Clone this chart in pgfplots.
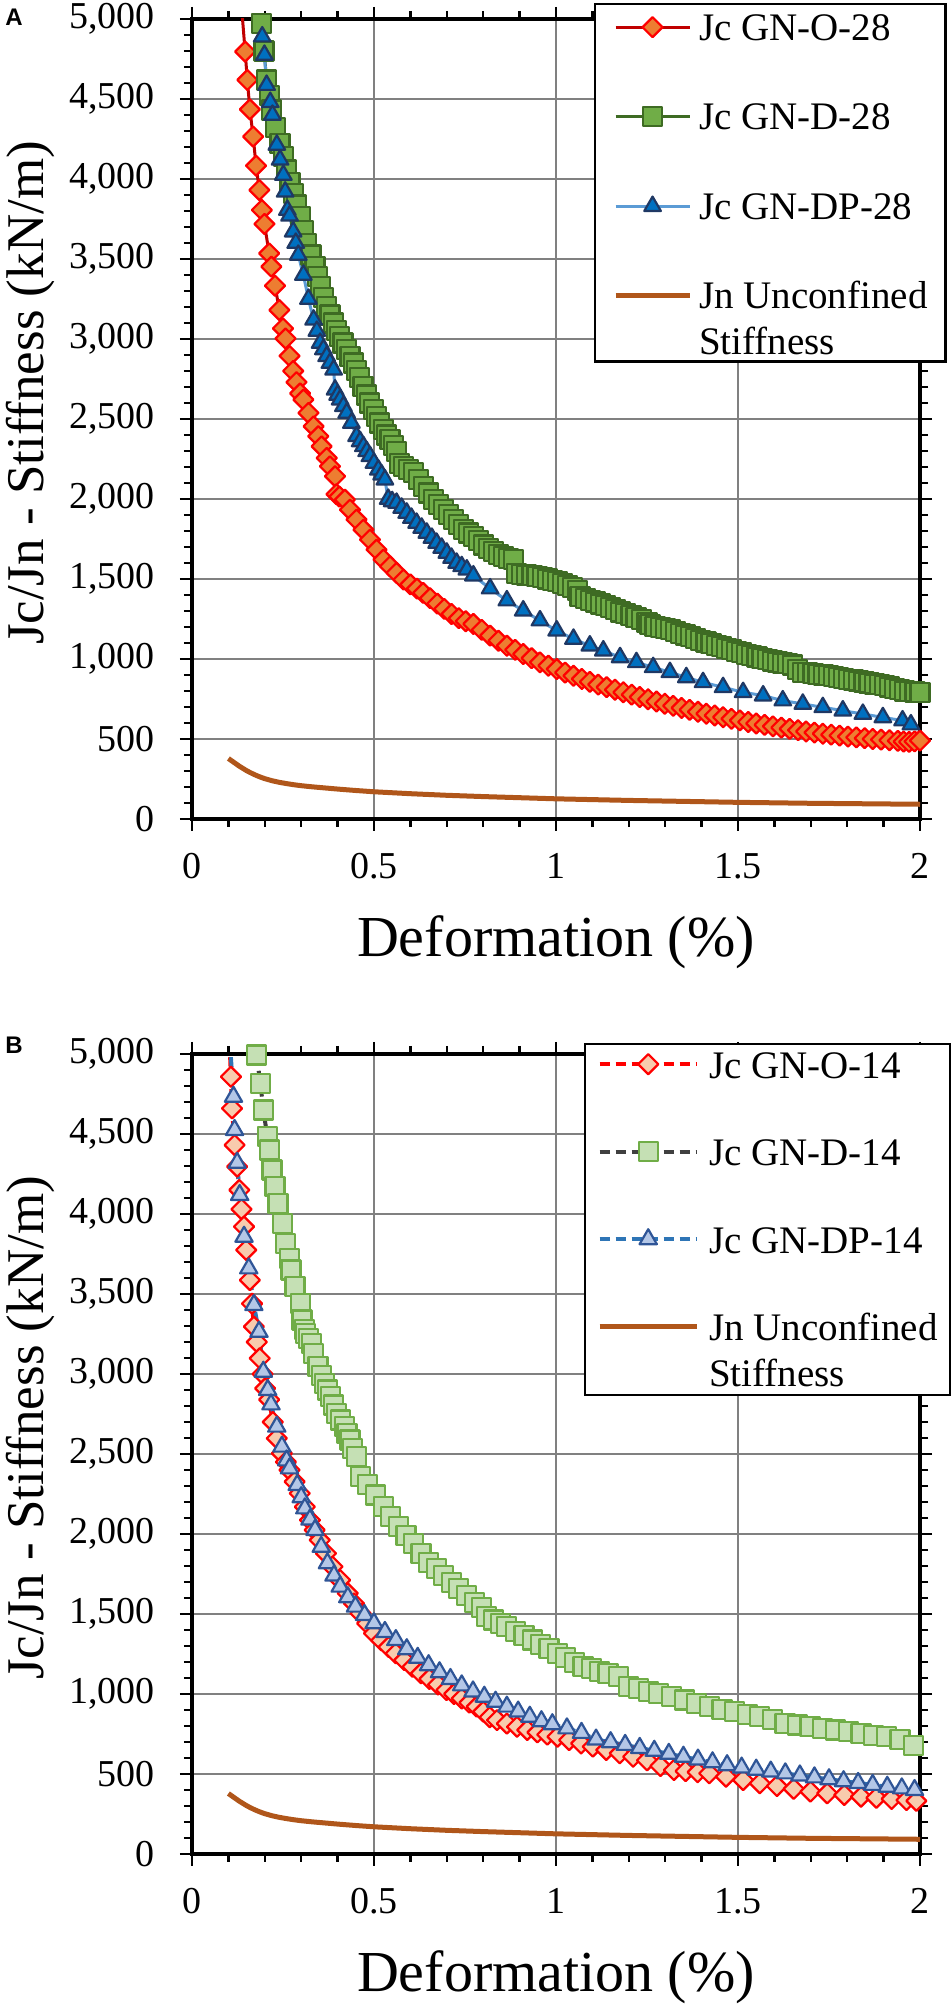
\documentclass[border=0pt]{standalone}
\usepackage{fontspec}
\setmainfont{Liberation Serif}
\newfontfamily\panelfont{Liberation Sans}
\usepackage{pgfplots}
\pgfplotsset{compat=1.18}

\definecolor{oline}{HTML}{C00000}
\definecolor{ofill}{HTML}{ED7D31}
\definecolor{oedge}{HTML}{FF0000}
\definecolor{dline}{HTML}{3E6B23}
\definecolor{dfill}{HTML}{70AD47}
\definecolor{dedge}{HTML}{3E6B23}
\definecolor{pline}{HTML}{5B9BD5}
\definecolor{pfill}{HTML}{0070C0}
\definecolor{pedge}{HTML}{1F3864}
\definecolor{jn}{HTML}{B0561A}
\definecolor{ofillB}{HTML}{F8CBAD}
\definecolor{olineB}{HTML}{FF0000}
\definecolor{dlineB}{HTML}{404040}
\definecolor{dfillB}{HTML}{C5E0B4}
\definecolor{dedgeB}{HTML}{70AD47}
\definecolor{plineB}{HTML}{2E75B6}
\definecolor{pfillB}{HTML}{B4C7E7}
\definecolor{pedgeB}{HTML}{2F5597}
\definecolor{gridc}{HTML}{808080}

\pgfplotsset{
  panel/.style={
    scale only axis, width=364pt, height=400pt,
    xmin=0, xmax=2, ymin=0, ymax=5000,
    xtick={0,0.5,1,1.5,2}, ytick={0,500,...,5000},
    minor x tick num=4, minor y tick num=4,
    tick align=outside, major tick length=6pt, minor tick length=4pt,
    tick style={black, line width=1.2pt},
    axis line style={black, line width=1.8pt},
    grid=major, major grid style={gridc, line width=1.1pt},
    /pgf/number format/assume math mode=true,
    /pgf/number format/1000 sep={,},
    tick label style={font=\fontsize{19pt}{21pt}\selectfont},
    yticklabel style={anchor=east, inner sep=0pt, xshift=-12.5pt},
    xticklabel style={anchor=north, inner sep=0pt, yshift=-11pt},
    xlabel={Deformation (\%)},
    ylabel={Jc/Jn - Stiffness (kN/m)},
    xlabel style={font=\fontsize{29pt}{33pt}\selectfont, at={(axis description cs:0.5,-0.12)}, anchor=north, inner sep=0pt},
    ylabel style={font=\fontsize{26.5pt}{30pt}\selectfont, at={(axis description cs:-0.2225,0.5325)}, anchor=center, inner sep=0pt},
    legend style={draw=black, line width=1.2pt, fill=white,
      font=\fontsize{19.5pt}{23pt}\selectfont,
      cells={anchor=base west},
      nodes={inner sep=0pt, text height=14pt, text depth=3pt}},
  }
}

\begin{document}
\begin{tikzpicture}
\path[use as bounding box] (0,0) rectangle (475pt,1002.5pt);

% ---------------- Panel A ----------------
\begin{axis}[panel, at={(96pt,593pt)}, anchor=south west,
  legend style={at={(0.552,1.02)}, anchor=north west, inner xsep=9pt, inner ysep=4pt, row sep=27.75pt, column sep=3.5pt},
  legend image code/.code={\draw[mark repeat=2,mark phase=2] plot coordinates {(0pt,6.5pt) (18.5pt,6.5pt) (37pt,6.5pt)};}]

\addplot[color=oline, line width=1.5pt, line join=round, mark=square*, mark size=3.55pt,
  mark options={rotate=45, fill=ofill, draw=oedge, line width=1.1pt, solid}] coordinates {
(0.136,5080)(0.146,4796)(0.152,4619)(0.159,4435)(0.168,4265)(0.176,4083)(0.185,3931)(0.192,3806)(0.199,3719)(0.212,3535)(0.218,3452)(0.228,3333)(0.240,3181)(0.250,3066)(0.257,3003)(0.268,2894)(0.278,2800)(0.287,2730)(0.297,2660)(0.306,2621)(0.320,2538)(0.334,2454)(0.347,2392)(0.356,2329)(0.370,2256)(0.379,2204)(0.393,2142)(0.397,2030)(0.405,2015)(0.420,1996)(0.434,1933)(0.452,1871)(0.471,1808)(0.489,1746)(0.507,1683)(0.526,1621)(0.544,1579)(0.562,1538)(0.581,1496)(0.600,1466)(0.618,1440)(0.635,1413)(0.654,1380)(0.674,1346)(0.693,1313)(0.713,1281)(0.733,1255)(0.752,1236)(0.773,1219)(0.796,1182)(0.819,1146)(0.842,1114)(0.865,1083)(0.888,1057)(0.910,1031)(0.933,1005)(0.956,979)(0.979,958)(1.002,937)(1.025,915)(1.048,895)(1.071,875)(1.093,857)(1.116,840)(1.139,824)(1.162,808)(1.185,792)(1.208,777)(1.230,762)(1.253,748)(1.276,734)(1.299,720)(1.322,707)(1.345,694)(1.367,682)(1.390,670)(1.413,658)(1.436,647)(1.459,636)(1.482,626)(1.505,616)(1.528,606)(1.550,597)(1.573,588)(1.596,579)(1.619,571)(1.642,563)(1.665,555)(1.687,547)(1.710,540)(1.733,533)(1.756,527)(1.779,521)(1.802,515)(1.825,510)(1.848,505)(1.870,500)(1.893,496)(1.916,492)(1.939,488)(1.955,484)(1.970,482)(1.985,485)(2.000,490)
};
\addlegendentry{Jc GN-O-28}

\addplot[color=dline, line width=1.5pt, line join=round, mark=square*, mark size=4.75pt,
  mark options={fill=dfill, draw=dedge, line width=1.1pt, solid}] coordinates {
(0.190,4973)(0.198,4800)(0.205,4619)(0.212,4520)(0.219,4431)(0.230,4320)(0.242,4222)(0.251,4140)(0.260,4056)(0.269,3980)(0.278,3910)(0.288,3837)(0.297,3764)(0.306,3680)(0.315,3597)(0.327,3525)(0.338,3452)(0.345,3390)(0.352,3327)(0.361,3260)(0.370,3204)(0.379,3150)(0.388,3100)(0.397,3055)(0.406,3017)(0.415,2975)(0.424,2933)(0.434,2890)(0.443,2850)(0.452,2805)(0.461,2760)(0.470,2705)(0.479,2650)(0.488,2600)(0.498,2558)(0.507,2517)(0.516,2475)(0.525,2433)(0.535,2400)(0.544,2371)(0.553,2335)(0.562,2298)(0.571,2220)(0.580,2204)(0.594,2183)(0.608,2163)(0.622,2120)(0.635,2079)(0.649,2037)(0.663,1996)(0.677,1965)(0.690,1933)(0.704,1902)(0.718,1871)(0.732,1840)(0.745,1808)(0.759,1787)(0.773,1767)(0.787,1738)(0.800,1712)(0.814,1692)(0.828,1672)(0.842,1655)(0.855,1642)(0.869,1630)(0.883,1620)(0.892,1535)(0.906,1530)(0.920,1525)(0.934,1520)(0.948,1514)(0.962,1508)(0.976,1500)(0.990,1492)(1.004,1482)(1.018,1470)(1.032,1457)(1.046,1445)(1.060,1430)(1.066,1390)(1.080,1378)(1.094,1366)(1.108,1356)(1.122,1344)(1.136,1333)(1.150,1320)(1.164,1307)(1.178,1294)(1.192,1282)(1.206,1270)(1.220,1258)(1.234,1246)(1.250,1230)(1.258,1215)(1.272,1205)(1.286,1198)(1.300,1190)(1.314,1182)(1.328,1172)(1.342,1160)(1.356,1150)(1.370,1138)(1.384,1127)(1.398,1116)(1.412,1106)(1.426,1096)(1.440,1086)(1.454,1076)(1.468,1066)(1.482,1057)(1.496,1048)(1.510,1039)(1.524,1030)(1.538,1021)(1.552,1012)(1.566,1003)(1.580,995)(1.594,987)(1.608,981)(1.622,975)(1.636,970)(1.650,962)(1.664,935)(1.678,917)(1.692,913)(1.706,909)(1.720,905)(1.734,900)(1.748,896)(1.762,891)(1.776,886)(1.790,880)(1.804,874)(1.818,868)(1.832,862)(1.846,856)(1.860,850)(1.874,844)(1.888,838)(1.902,832)(1.916,825)(1.930,817)(1.944,808)(1.958,800)(1.972,797)(1.986,794)(2.000,792)
};
\addlegendentry{Jc GN-D-28}

\addplot[color=pline, line width=1.5pt, line join=round, mark=triangle*, mark size=4.8pt,
  mark options={fill=pfill, draw=pedge, line width=1.1pt, solid}] coordinates {
(0.187,5080)(0.193,4890)(0.199,4775)(0.205,4587)(0.215,4480)(0.221,4400)(0.233,4213)(0.242,4120)(0.251,4025)(0.256,3920)(0.262,3806)(0.268,3770)(0.278,3671)(0.285,3600)(0.292,3525)(0.306,3400)(0.320,3250)(0.334,3120)(0.343,3050)(0.352,2975)(0.361,2935)(0.370,2892)(0.379,2850)(0.389,2808)(0.393,2683)(0.400,2650)(0.407,2621)(0.416,2580)(0.425,2538)(0.438,2475)(0.452,2392)(0.462,2360)(0.471,2329)(0.480,2298)(0.489,2267)(0.500,2225)(0.512,2183)(0.521,2152)(0.530,2121)(0.539,2000)(0.550,1985)(0.562,1975)(0.576,1944)(0.590,1913)(0.603,1881)(0.617,1850)(0.631,1819)(0.645,1788)(0.659,1756)(0.672,1725)(0.686,1694)(0.700,1663)(0.713,1631)(0.727,1600)(0.741,1579)(0.755,1558)(0.773,1521)(0.819,1440)(0.865,1365)(0.910,1302)(0.956,1240)(1.002,1177)(1.048,1125)(1.093,1083)(1.130,1052)(1.176,1010)(1.221,979)(1.267,948)(1.313,917)(1.358,885)(1.404,854)(1.459,823)(1.514,792)(1.569,771)(1.623,740)(1.678,719)(1.733,698)(1.788,677)(1.843,656)(1.898,635)(1.952,615)(1.975,590)
};
\addlegendentry{Jc GN-DP-28}

\addplot[color=jn, line width=2.5pt, line join=round, mark=none] coordinates {
(0.100,378)(0.110,362)(0.120,346)(0.130,330)(0.140,316)(0.150,302)(0.160,290)(0.170,279)(0.180,269)(0.190,260)(0.200,252)(0.220,239)(0.240,229)(0.260,221)(0.280,214)(0.300,208)(0.330,201)(0.360,195)(0.400,187)(0.450,178)(0.500,170)(0.600,158)(0.700,148)(0.800,140)(0.900,133)(1.000,126)(1.100,121)(1.200,116)(1.300,112)(1.400,108)(1.500,104)(1.600,101)(1.700,98)(1.800,96)(1.900,94)(2.000,92)
};
\addlegendentry[text depth=22.5pt]{{\begin{tabular}[t]{@{}l@{}}Jn Unconfined\\Stiffness\end{tabular}}}
\end{axis}

% ---------------- Panel B ----------------
\begin{axis}[panel, at={(96pt,75.5pt)}, anchor=south west,
  legend style={at={(0.5385,1.01375)}, anchor=north west, inner xsep=6pt, inner ysep=3pt, row sep=26.75pt, column sep=5pt},
  legend image code/.code={\draw[mark repeat=2,mark phase=2] plot coordinates {(0pt,7pt) (24.25pt,7pt) (48.5pt,7pt)};}]

\addplot[color=olineB, line width=2pt, dash pattern=on 5pt off 3pt, line join=round, mark=square*, mark size=3.55pt,
  mark options={rotate=45, fill=ofillB, draw=olineB, line width=1.1pt, solid}] coordinates {
(0.103,5080)(0.107,4858)(0.110,4660)(0.117,4431)(0.124,4296)(0.130,4150)(0.136,4030)(0.143,3921)(0.149,3775)(0.159,3587)(0.165,3440)(0.170,3296)(0.178,3200)(0.186,3098)(0.194,3000)(0.201,2910)(0.212,2840)(0.222,2700)(0.233,2598)(0.247,2504)(0.258,2450)(0.268,2400)(0.282,2327)(0.296,2254)(0.310,2170)(0.324,2087)(0.337,2025)(0.351,1962)(0.368,1879)(0.386,1796)(0.407,1712)(0.428,1629)(0.445,1566)(0.463,1504)(0.481,1441)(0.500,1379)(0.520,1335)(0.540,1294)(0.560,1254)(0.583,1212)(0.606,1170)(0.629,1129)(0.652,1094)(0.676,1059)(0.699,1025)(0.720,1000)(0.741,972)(0.762,946)(0.782,921)(0.800,890)(0.818,855)(0.838,837)(0.865,815)(0.893,795)(0.921,775)(0.949,760)(0.976,746)(1.004,733)(1.036,712)(1.069,691)(1.101,671)(1.138,650)(1.175,629)(1.212,608)(1.250,585)(1.287,550)(1.324,525)(1.356,518)(1.389,511)(1.421,504)(1.467,483)(1.514,462)(1.560,442)(1.607,425)(1.653,407)(1.699,390)(1.745,379)(1.792,369)(1.838,358)(1.880,351)(1.922,344)(1.963,337)(1.990,332)
};
\addlegendentry{Jc GN-O-14}

\addplot[color=dlineB, line width=2pt, dash pattern=on 5pt off 3pt, line join=round, mark=square*, mark size=4.75pt,
  mark options={fill=dfillB, draw=dedgeB, line width=1.1pt, solid}] coordinates {
(0.177,4994)(0.188,4817)(0.196,4650)(0.207,4483)(0.212,4400)(0.220,4275)(0.228,4171)(0.236,4067)(0.249,3942)(0.257,3817)(0.268,3723)(0.272,3650)(0.283,3546)(0.297,3442)(0.302,3337)(0.308,3280)(0.312,3254)(0.320,3220)(0.328,3192)(0.333,3129)(0.346,3046)(0.355,2990)(0.365,2942)(0.373,2900)(0.381,2858)(0.389,2806)(0.397,2754)(0.408,2712)(0.418,2671)(0.426,2629)(0.434,2587)(0.442,2535)(0.451,2483)(0.463,2358)(0.483,2310)(0.504,2244)(0.525,2171)(0.546,2108)(0.567,2045)(0.588,1993)(0.608,1941)(0.629,1879)(0.650,1824)(0.671,1782)(0.692,1740)(0.712,1698)(0.733,1657)(0.754,1615)(0.775,1573)(0.796,1540)(0.810,1483)(0.828,1462)(0.847,1442)(0.865,1421)(0.888,1393)(0.912,1365)(0.935,1337)(0.958,1309)(0.981,1282)(1.004,1254)(1.027,1226)(1.051,1198)(1.074,1171)(1.097,1157)(1.120,1143)(1.143,1129)(1.171,1110)(1.199,1046)(1.227,1032)(1.254,1018)(1.282,1004)(1.317,983)(1.352,962)(1.386,942)(1.421,921)(1.456,905)(1.491,890)(1.525,874)(1.560,858)(1.594,840)(1.629,817)(1.664,806)(1.698,796)(1.733,785)(1.768,775)(1.803,764)(1.838,754)(1.872,743)(1.907,733)(1.945,718)(1.983,680)
};
\addlegendentry{Jc GN-D-14}

\addplot[color=plineB, line width=2pt, dash pattern=on 5pt off 3pt, line join=round, mark=triangle*, mark size=5pt,
  mark options={fill=pfillB, draw=pedgeB, line width=1.1pt, solid}] coordinates {
(0.104,5080)(0.114,4733)(0.117,4525)(0.124,4320)(0.131,4119)(0.143,3858)(0.156,3660)(0.170,3431)(0.184,3264)(0.196,3014)(0.208,2900)(0.217,2810)(0.233,2671)(0.247,2546)(0.260,2460)(0.268,2410)(0.289,2306)(0.300,2230)(0.310,2160)(0.324,2090)(0.338,2025)(0.355,1920)(0.372,1817)(0.390,1740)(0.407,1671)(0.428,1605)(0.449,1546)(0.474,1494)(0.500,1442)(0.530,1388)(0.560,1337)(0.590,1280)(0.620,1226)(0.650,1180)(0.680,1136)(0.710,1094)(0.741,1054)(0.772,1016)(0.803,983)(0.834,952)(0.865,921)(0.896,890)(0.928,858)(0.960,830)(0.990,811)(1.030,785)(1.070,757)(1.110,715)(1.150,699)(1.190,682)(1.230,663)(1.270,645)(1.310,626)(1.350,608)(1.390,590)(1.430,573)(1.470,555)(1.510,540)(1.550,527)(1.590,515)(1.630,504)(1.670,491)(1.710,479)(1.750,467)(1.790,455)(1.830,444)(1.870,432)(1.910,420)(1.950,410)(1.985,400)
};
\addlegendentry{Jc GN-DP-14}

\addplot[color=jn, line width=2.5pt, line join=round, mark=none] coordinates {
(0.100,378)(0.110,362)(0.120,346)(0.130,330)(0.140,316)(0.150,302)(0.160,290)(0.170,279)(0.180,269)(0.190,260)(0.200,252)(0.220,239)(0.240,229)(0.260,221)(0.280,214)(0.300,208)(0.330,201)(0.360,195)(0.400,187)(0.450,178)(0.500,170)(0.600,158)(0.700,148)(0.800,140)(0.900,133)(1.000,126)(1.100,121)(1.200,116)(1.300,112)(1.400,108)(1.500,104)(1.600,101)(1.700,98)(1.800,96)(1.900,94)(2.000,92)
};
\addlegendentry[text depth=24pt]{{\begin{tabular}[t]{@{}l@{}}Jn Unconfined\\Stiffness\end{tabular}}}
\end{axis}

\node[font={\panelfont\bfseries\fontsize{12pt}{14pt}\selectfont}] at (7pt,994pt) {A};
\node[font={\panelfont\bfseries\fontsize{12pt}{14pt}\selectfont}] at (7pt,480pt) {B};
\end{tikzpicture}
\end{document}
